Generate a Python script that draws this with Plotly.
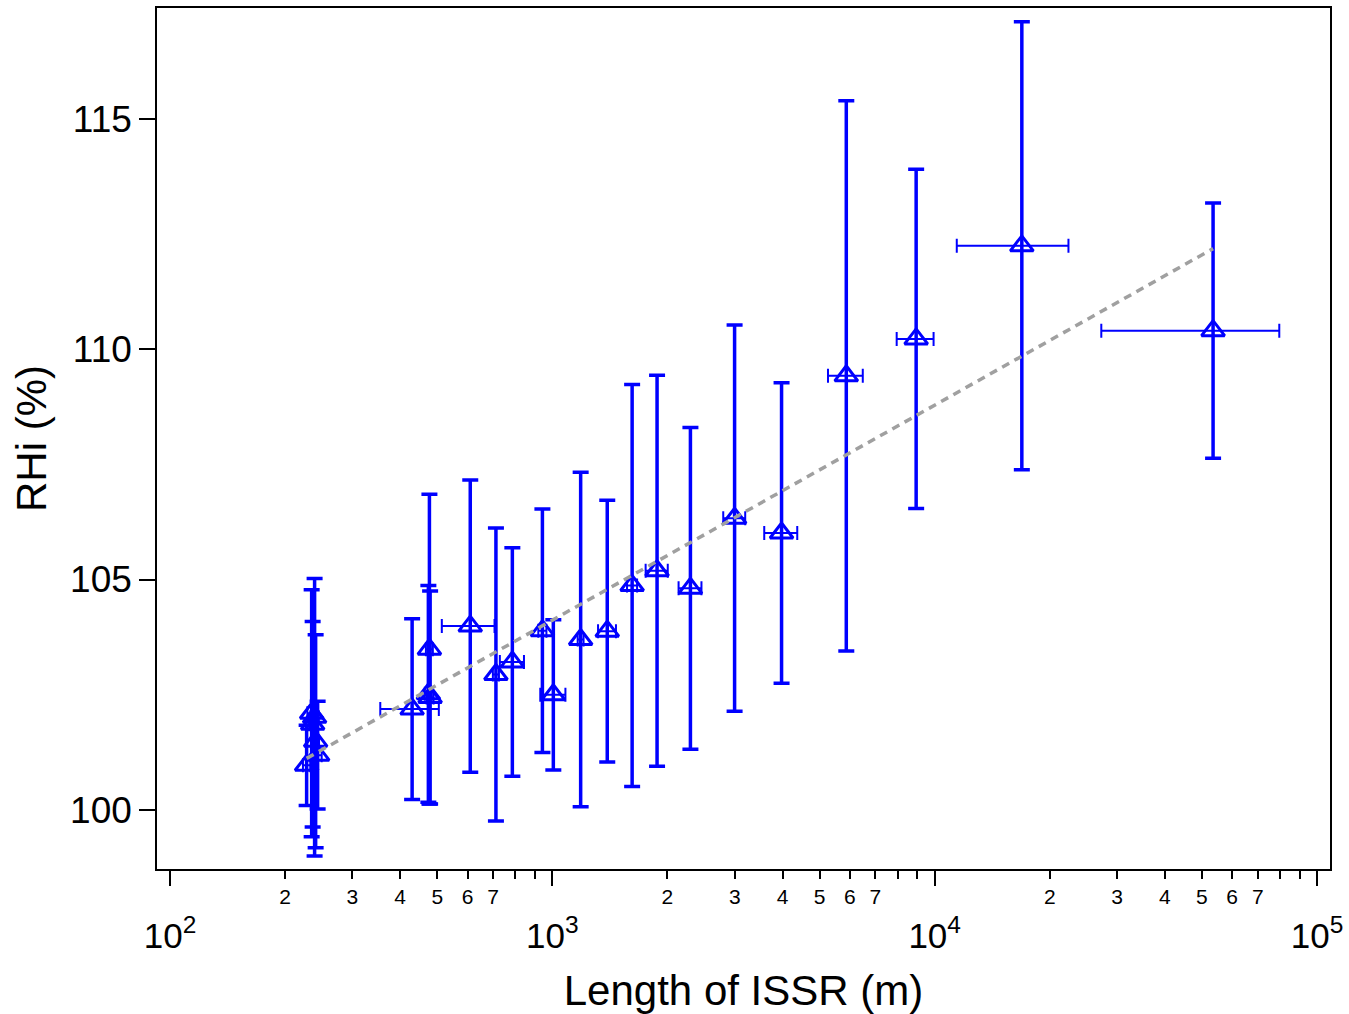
import plotly.graph_objects as go

# ---- data ----
lengths = [227.7, 234.7, 236.1, 238.9, 240.4, 243.3, 429.8, 474, 477, 479,
           610, 712, 786, 942, 1006, 1186, 1392, 1617, 1879, 2297,
           2997, 3977, 5873, 8945, 16904, 53480]
length_err = [5, 6, 5, 6, 5, 6, 75, 10, 10, 10,
              96, 13, 57, 23, 76, 21, 75, 49, 125, 158,
              198, 394, 613, 990, 5480, 26200]
rhi = [100.97, 102.10, 101.86, 102.01, 101.49, 101.19, 102.19, 102.52, 103.49, 102.44,
       103.99, 102.94, 103.21, 103.89, 102.50, 103.70, 103.88, 104.87, 105.19, 104.81,
       106.33, 106.01, 109.42, 110.22, 112.24, 110.40]
rhi_err = [0.87, 2.68, 2.23, 3.01, 2.31, 1.17, 1.96, 2.35, 3.36, 2.31,
           3.17, 3.18, 2.48, 2.64, 1.63, 3.63, 2.84, 4.36, 4.24, 3.49,
           4.19, 3.26, 5.97, 3.68, 4.86, 2.77]

trend_x = [227.7, 53480]
trend_y = [101.12, 112.18]

y_ticks = [100, 105, 110, 115]
major_ticks = [100, 1000, 10000, 100000]
major_text = ["10<sup>2</sup>", "10<sup>3</sup>", "10<sup>4</sup>", "10<sup>5</sup>"]
labeled_mult = [2, 3, 4, 5, 6, 7]
unlabeled_mult = [8, 9]
decades = [100, 1000, 10000]

labeled_vals = [m * d for d in decades for m in labeled_mult]
labeled_text = [str(m) for d in decades for m in labeled_mult]
unlabeled_vals = [m * d for d in decades for m in unlabeled_mult]

BLUE = "#0000FF"
FONT = "Liberation Sans, Arial, sans-serif"

fig = go.Figure()

fig.add_trace(go.Scatter(
    x=lengths, y=rhi, mode="markers",
    marker=dict(symbol="triangle-up-open", size=20, color=BLUE,
                line=dict(color=BLUE, width=3)),
    error_y=dict(type="data", array=rhi_err, visible=True, color=BLUE,
                 thickness=3.5, width=8),
    error_x=dict(type="data", array=length_err, visible=True, color=BLUE,
                 thickness=2, width=7),
    showlegend=False,
))

fig.add_trace(go.Scatter(
    x=trend_x, y=trend_y, mode="lines", xaxis="x2",
    line=dict(color="#A0A0A0", width=3.5, dash="8px,6px"),
    showlegend=False,
))

xr = [1.966, 5.034]

fig.update_layout(
    width=1349, height=1014,
    margin=dict(l=157, r=16, t=6, b=144),
    paper_bgcolor="white", plot_bgcolor="white",
    font=dict(family=FONT, color="black"),
    xaxis=dict(
        type="log", range=xr,
        tickmode="array", tickvals=labeled_vals, ticktext=labeled_text,
        ticks="outside", ticklen=8, tickwidth=1.5, tickcolor="black",
        tickfont=dict(size=21, family=FONT),
        minor=dict(tickmode="array", tickvals=unlabeled_vals, ticks="outside",
                   ticklen=8, tickwidth=1.5, tickcolor="black", showgrid=False),
        showgrid=False, zeroline=False,
        showline=True, linecolor="black", linewidth=1.5, mirror=True,
    ),
    xaxis2=dict(
        type="log", range=xr, overlaying="x", anchor="y", side="bottom",
        tickmode="array", tickvals=major_ticks, ticktext=major_text,
        ticks="outside", ticklen=16, tickwidth=1.5, tickcolor="black",
        tickfont=dict(size=35, family=FONT),
        ticklabelstandoff=20,
        showgrid=False, zeroline=False, showline=False,
        title=dict(text="Length of ISSR (m)", font=dict(size=42, family=FONT),
                   standoff=24),
    ),
    yaxis=dict(
        range=[98.72, 117.4],
        tickmode="array", tickvals=y_ticks,
        ticks="outside", ticklen=16, tickwidth=1.5, tickcolor="black",
        tickfont=dict(size=37, family=FONT),
        showgrid=False, zeroline=False,
        showline=True, linecolor="black", linewidth=1.5, mirror=True,
        title=dict(text="RHi (%)", font=dict(size=42, family=FONT), standoff=10),
    ),
)

fig.write_html("out.html")
